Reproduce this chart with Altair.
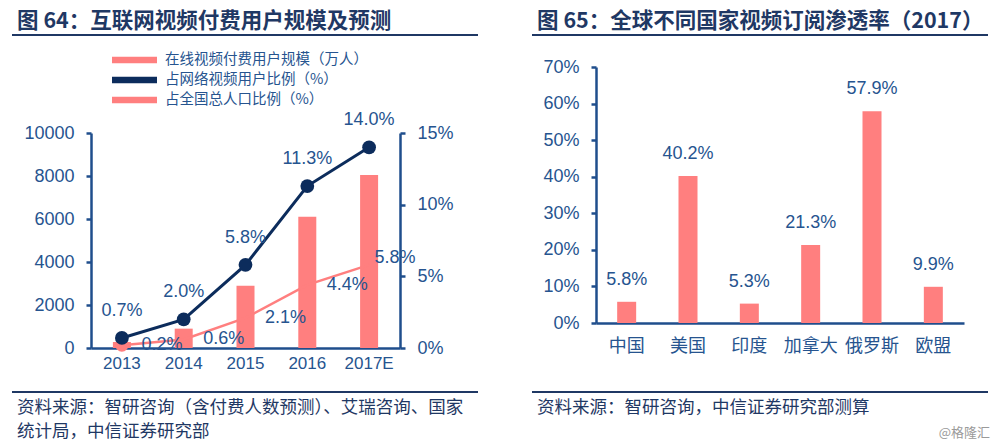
import altair as alt
import pandas as pd

# ---------------- data ----------------
years = ["2013", "2014", "2015", "2016", "2017E"]
paid_users = [280, 900, 2900, 6100, 8050]          # 万人
share_net_users = [0.7, 2.0, 5.8, 11.3, 14.0]       # %
share_population = [0.2, 0.6, 2.1, 4.4, 5.8]        # %

series_names = ["在线视频付费用户规模（万人）", "占网络视频用户比例（%）", "占全国总人口比例（%）"]

countries = ["中国", "美国", "印度", "加拿大", "俄罗斯", "欧盟"]
penetration = [5.8, 40.2, 5.3, 21.3, 57.9, 9.9]     # %

left_title = "图 64：互联网视频付费用户规模及预测"
right_title = "图 65：全球不同国家视频订阅渗透率（2017）"
left_source = ["资料来源：智研咨询（含付费人数预测）、艾瑞咨询、国家", "统计局，中信证券研究部"]
right_source = "资料来源：智研咨询，中信证券研究部测算"
watermark = "@格隆汇"

# ---------------- styling ----------------
PINK = "#FF7F7F"
NAVY = "#0C2C5C"
AXIS = "#1F4E8C"
LABEL = "#26548F"
TITLE = "#1F3864"
NUM_FONT = "Liberation Sans"
CJK_FONT = "Noto Sans CJK SC"
TICK_FS = 18
DATA_FS = 18

df_bars = pd.DataFrame({"year": years, "value": paid_users, "series": series_names[0]})
df_net = pd.DataFrame({"year": years, "value": share_net_users, "series": series_names[1]})
df_pop = pd.DataFrame({"year": years, "value": share_population, "series": series_names[2]})
df_right = pd.DataFrame({"country": countries, "value": penetration})

xL = alt.Scale(domain=years, range=[83, 392], paddingInner=0, paddingOuter=0)
yUsers = alt.Scale(domain=[0, 10000], range=[340, 125], nice=False)
yPct = alt.Scale(domain=[0, 15], range=[340, 125], nice=False)
xR = alt.Scale(domain=countries, range=[588, 956], paddingInner=0, paddingOuter=0)
yR = alt.Scale(domain=[0, 70], range=[315, 59], nice=False)

color_scale = alt.Scale(domain=series_names, range=[PINK, NAVY, PINK])

axis_common = dict(
    domainColor=AXIS, domainWidth=2.5, tickColor=AXIS, tickWidth=2.5,
    labelColor=LABEL, grid=False, title=None,
)

legend = alt.Legend(
    title=None, orient="none", legendX=104, legendY=42,
    symbolType="M-1,-0.14H1V0.14H-1Z", symbolSize=2025, symbolStrokeWidth=0,
    symbolOpacity=1, clipHeight=20, rowPadding=0, padding=0, labelOffset=8,
    labelLimit=400, labelFont=CJK_FONT, labelFontSize=14.5, labelColor=LABEL,
)

# ---------------- left chart ----------------
bars_left = alt.Chart(df_bars).mark_bar(size=18).encode(
    x=alt.X("year:N", scale=xL, sort=years,
            axis=alt.Axis(orient="bottom", offset=-96, ticks=False, labelPadding=7,
                          labelAngle=0, labelFont=NUM_FONT, labelFontSize=17, **axis_common)),
    y=alt.Y("value:Q", scale=yUsers,
            axis=alt.Axis(orient="left", offset=-83, values=[0, 2000, 4000, 6000, 8000, 10000],
                          format="d", tickSize=5, labelPadding=12, labelFont=NUM_FONT,
                          labelFontSize=TICK_FS, **axis_common)),
    color=alt.Color("series:N", scale=color_scale, legend=legend),
)

line_net = alt.Chart(df_net).mark_line(strokeWidth=3).encode(
    x=alt.X("year:N", scale=xL, sort=years, axis=None),
    y=alt.Y("value:Q", scale=yPct,
            axis=alt.Axis(orient="right", offset=-592, values=[0, 5, 10, 15],
                          labelExpr="datum.value + '%'", tickSize=5, labelPadding=12,
                          labelFont=NUM_FONT, labelFontSize=TICK_FS, **axis_common)),
    color=alt.Color("series:N", scale=color_scale, legend=None),
)
points_net = alt.Chart(df_net).mark_circle(size=190, opacity=1).encode(
    x=alt.X("year:N", scale=xL, sort=years, axis=None),
    y=alt.Y("value:Q", scale=yPct, axis=None),
    color=alt.Color("series:N", scale=color_scale, legend=None),
)
labels_net = alt.Chart(df_net).transform_calculate(
    label="format(datum.value, '.1f') + '%'"
).mark_text(dy=-27, fontSize=DATA_FS, font=NUM_FONT, color=LABEL).encode(
    x=alt.X("year:N", scale=xL, sort=years, axis=None),
    y=alt.Y("value:Q", scale=yPct, axis=None),
    text="label:N",
)

line_pop = alt.Chart(df_pop).mark_line(strokeWidth=2.5).encode(
    x=alt.X("year:N", scale=xL, sort=years, axis=None),
    y=alt.Y("value:Q", scale=yPct, axis=None),
    color=alt.Color("series:N", scale=color_scale, legend=None),
)
point_pop = alt.Chart(df_pop).transform_filter(
    alt.datum.year == years[0]
).mark_circle(size=170, opacity=1).encode(
    x=alt.X("year:N", scale=xL, sort=years, axis=None),
    y=alt.Y("value:Q", scale=yPct, axis=None),
    color=alt.Color("series:N", scale=color_scale, legend=None),
)
labels_pop = alt.Chart(df_pop).transform_filter(
    alt.datum.year != years[-1]
).transform_calculate(
    label="format(datum.value, '.1f') + '%'"
).mark_text(dx=40, fontSize=DATA_FS, font=NUM_FONT, color=LABEL).encode(
    x=alt.X("year:N", scale=xL, sort=years, axis=None),
    y=alt.Y("value:Q", scale=yPct, axis=None),
    text="label:N",
)
labels_pop_last = alt.Chart(df_pop).transform_filter(
    alt.datum.year == years[-1]
).transform_calculate(
    label="format(datum.value, '.1f') + '%'"
).mark_text(dx=26, dy=-7, fontSize=DATA_FS, font=NUM_FONT, color=LABEL).encode(
    x=alt.X("year:N", scale=xL, sort=years, axis=None),
    y=alt.Y("value:Q", scale=yPct, axis=None),
    text="label:N",
)

# ---------------- right chart ----------------
bars_right = alt.Chart(df_right).mark_bar(size=19, color=PINK).encode(
    x=alt.X("country:N", scale=xR, sort=countries,
            axis=alt.Axis(orient="bottom", offset=-121, ticks=False, labelPadding=14,
                          labelAngle=0, labelFont=CJK_FONT, labelFontSize=18, **axis_common)),
    y=alt.Y("value:Q", scale=yR,
            axis=alt.Axis(orient="left", offset=-588, values=[0, 10, 20, 30, 40, 50, 60, 70],
                          labelExpr="datum.value + '%'", tickSize=5, labelPadding=12,
                          labelFont=NUM_FONT, labelFontSize=TICK_FS, **axis_common)),
)
labels_right = alt.Chart(df_right).transform_calculate(
    label="format(datum.value, '.1f') + '%'"
).mark_text(dy=-22, fontSize=DATA_FS, font=NUM_FONT, color=LABEL).encode(
    x=alt.X("country:N", scale=xR, sort=countries, axis=None),
    y=alt.Y("value:Q", scale=yR, axis=None),
    text="label:N",
)

# ---------------- decorations ----------------
one = alt.Data(values=[{"k": 1}])


def text_layer(txt, x, y, size, color=TITLE, weight="normal", align="left", font=CJK_FONT):
    return alt.Chart(one).mark_text(
        text=txt, align=align, baseline="middle", fontSize=size, fontWeight=weight,
        font=font, color=color,
    ).encode(x=alt.value(x), y=alt.value(y))


def hrule(x1, x2, y, width=2):
    return alt.Chart(one).mark_rule(color=TITLE, strokeWidth=width).encode(
        x=alt.value(x1), x2=alt.value(x2), y=alt.value(y)
    )


decor = [
    text_layer(left_title, 9, 14, 21.5, weight="bold"),
    text_layer(right_title, 529, 14, 21.5, weight="bold"),
    hrule(4, 470, 27),
    hrule(524, 980, 27),
    hrule(4, 470, 384),
    hrule(524, 980, 384),
    text_layer(left_source[0], 9, 400, 17.5),
    text_layer(left_source[1], 9, 424, 17.5),
    text_layer(right_source, 529, 400, 17.5),
    text_layer(watermark, 982, 425, 13, color="#9A9A9A", align="right"),
]

chart = alt.layer(
    bars_left, line_pop, point_pop, line_net, points_net, labels_net, labels_pop, labels_pop_last,
    bars_right, labels_right, *decor,
).resolve_scale(
    x="independent", y="independent"
).properties(
    width=984, height=436, padding=0,
    autosize=alt.AutoSizeParams(type="none"),
    background="white",
).configure_view(stroke=None)

chart.save("out.html", embed_options={"renderer": "svg", "actions": False})
